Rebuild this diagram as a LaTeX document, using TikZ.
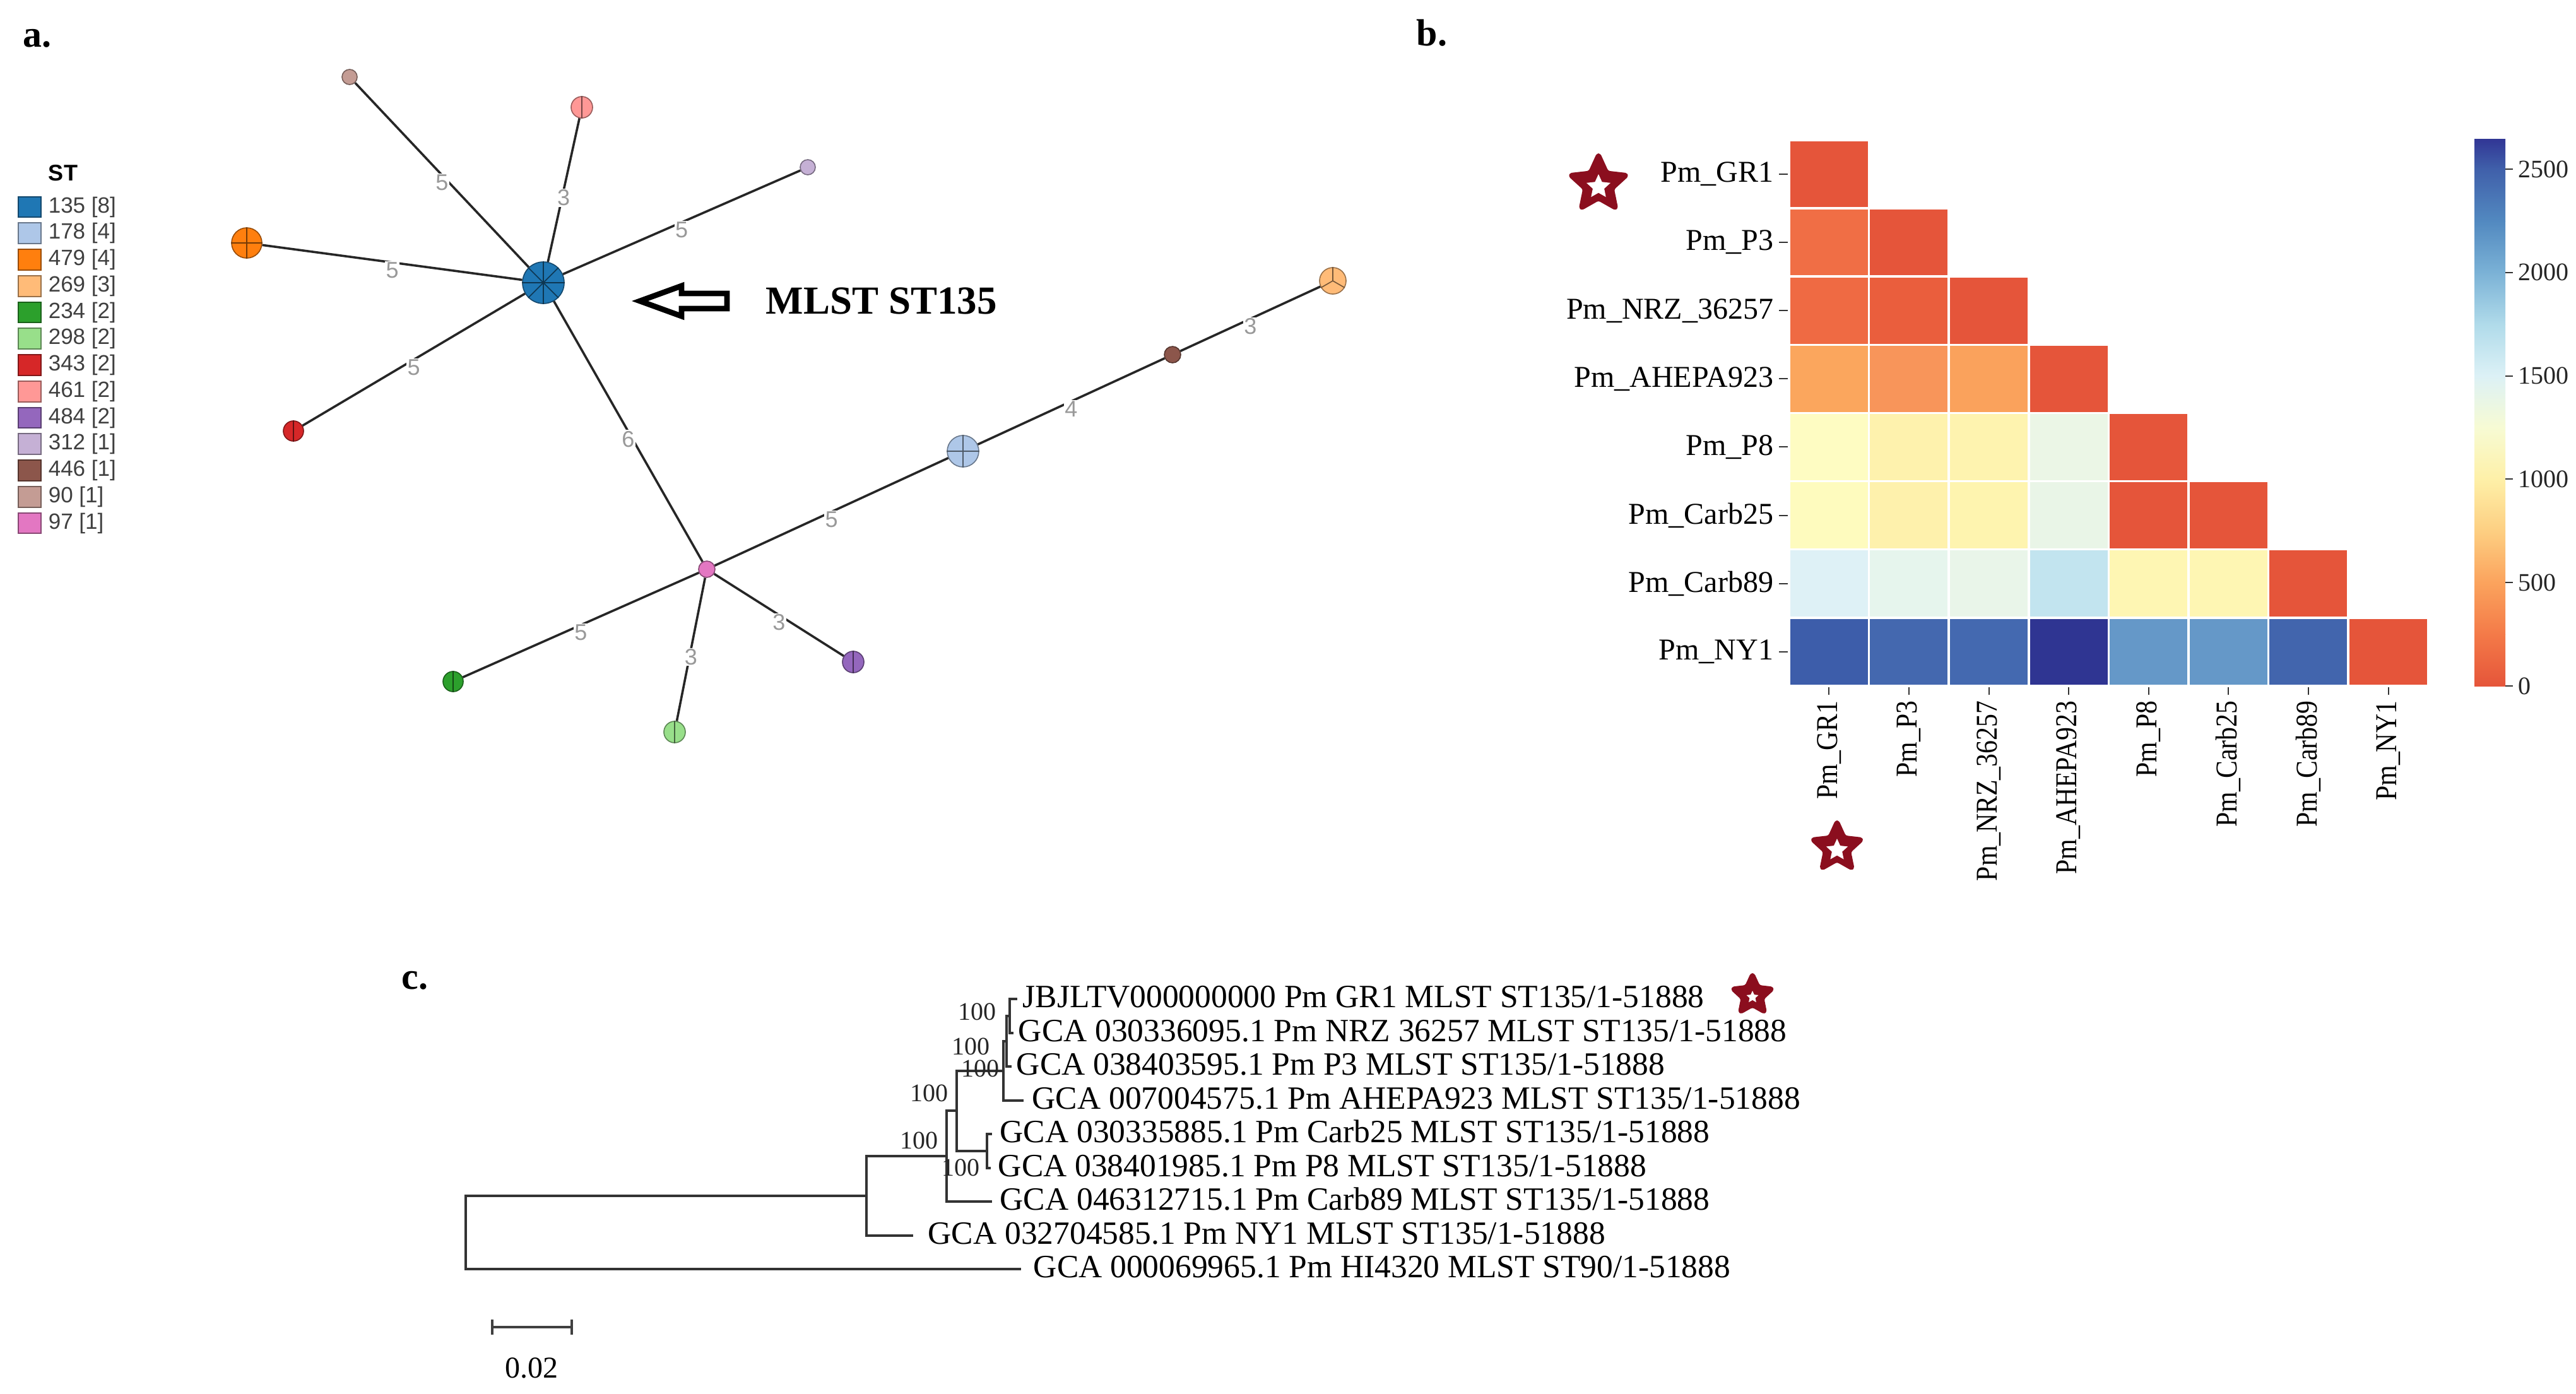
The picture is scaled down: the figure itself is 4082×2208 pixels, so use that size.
\documentclass[tikz,border=0pt]{standalone}
\usepackage{fontspec}
\usepackage{graphicx}
\setmainfont{Liberation Serif}
\setsansfont{Liberation Sans}
\usetikzlibrary{shapes.geometric}
\newcommand\myfs[1]{\fontsize{#1}{#1}\selectfont}
% ST colours
\definecolor{c135}{HTML}{1F77B4}
\definecolor{c178}{HTML}{AEC7E8}
\definecolor{c479}{HTML}{FF7F0E}
\definecolor{c269}{HTML}{FFBB78}
\definecolor{c234}{HTML}{2CA02C}
\definecolor{c298}{HTML}{98DF8A}
\definecolor{c343}{HTML}{D62728}
\definecolor{c461}{HTML}{FF9896}
\definecolor{c484}{HTML}{9467BD}
\definecolor{c312}{HTML}{C5B0D5}
\definecolor{c446}{HTML}{8C564B}
\definecolor{c90}{HTML}{C49C94}
\definecolor{c97}{HTML}{E377C2}
\definecolor{starred}{HTML}{8B0E1E}
% heatmap colours
\definecolor{hR}{HTML}{E5553A}
\definecolor{h10}{HTML}{F06E45}
\definecolor{h20}{HTML}{EF6A43}\definecolor{h21}{HTML}{EA5E3D}
\definecolor{h30}{HTML}{FBA65D}\definecolor{h31}{HTML}{F8955A}\definecolor{h32}{HTML}{FAA25C}
\definecolor{h40}{HTML}{FEFCC2}\definecolor{h41}{HTML}{FEF2AD}\definecolor{h42}{HTML}{FEF3AF}\definecolor{h43}{HTML}{EBF6E6}
\definecolor{h50}{HTML}{FEFBBE}\definecolor{h51}{HTML}{FEF1AC}\definecolor{h52}{HTML}{FEF4AF}\definecolor{h53}{HTML}{E9F5E7}
\definecolor{h60}{HTML}{DEF1F6}\definecolor{h61}{HTML}{E6F5ED}\definecolor{h62}{HTML}{E9F5E9}\definecolor{h63}{HTML}{C2E4EF}\definecolor{h64}{HTML}{FEF6B3}\definecolor{h65}{HTML}{FEF6B3}
\definecolor{h70}{HTML}{3D5DAA}\definecolor{h71}{HTML}{4468AF}\definecolor{h72}{HTML}{4469B0}\definecolor{h73}{HTML}{2F3592}\definecolor{h74}{HTML}{6598C8}\definecolor{h75}{HTML}{6598C8}\definecolor{h76}{HTML}{4265AD}
% colorbar stops
\definecolor{cb0}{HTML}{E5553A}
\definecolor{cb1}{HTML}{F47A48}
\definecolor{cb2}{HTML}{FBA35D}
\definecolor{cb3}{HTML}{FDCF82}
\definecolor{cb4}{HTML}{FEF0A8}
\definecolor{cb5}{HTML}{F7FBD4}
\definecolor{cb6}{HTML}{DCF1F6}
\definecolor{cb7}{HTML}{B0DBEA}
\definecolor{cb8}{HTML}{7BB2D6}
\definecolor{cb9}{HTML}{5289C0}
\definecolor{cb10}{HTML}{4060AA}
\definecolor{cb11}{HTML}{313695}
\begin{document}
\begin{tikzpicture}[x=0.25pt,y=-0.25pt,
  panel/.style={font=\bfseries\myfs{15pt}, inner sep=0pt, anchor=base west},
  legtxt/.style={font=\sffamily\myfs{8.75pt}, text=black!75, anchor=west, inner sep=0pt},
  swatch/.style={draw=#1!60!black, fill=#1, line width=0.5pt, minimum width=9pt, minimum height=8.2pt, inner sep=0pt},
  stn/.style={circle, draw=#1!60!black, fill=#1, line width=0.4pt, inner sep=0pt},
  pie/.style={draw=#1!45!black, line width=0.4pt},
  edge/.style={line width=0.9pt, black!85},
  elab/.style={font=\sffamily\myfs{9pt}, text=black!40, fill=white, inner sep=0.4pt, pos=0.5, yshift=-3pt},
  hlab/.style={font=\myfs{12pt}, inner sep=0pt},
  tick/.style={line width=0.5pt, black!80},
  cblab/.style={font=\myfs{10pt}, inner sep=0pt, anchor=west, text=black!85},
  treeline/.style={line width=0.8pt, black!80},
  leaf/.style={font=\myfs{12.875pt}, inner sep=0pt, anchor=west, text height=0.66em, text depth=0pt},
  boot/.style={font=\myfs{10pt}, inner sep=0pt, text=black!85},
  starout/.style={star, star points=5, star point ratio=2.1, fill=starred, draw=starred, line width=1.5pt, line join=round, rounded corners=1pt, inner sep=0pt, minimum size=#1},
  starin/.style={star, star points=5, star point ratio=2.1, fill=white, inner sep=0pt, minimum size=#1}
]
\fill[white] (0,0) rectangle (4082,2208);
\useasboundingbox (0,0) rectangle (4082,2208);

% ================= panel a =================
\node[panel] (la) at (36,74) {a.};
\node[font=\sffamily\bfseries\myfs{9pt}, inner sep=0pt] (legST) at (100,274) {ST};
\foreach \i/\c/\t in {0/c135/135 [8],1/c178/178 [4],2/c479/479 [4],3/c269/269 [3],4/c234/234 [2],5/c298/298 [2],6/c343/343 [2],7/c461/461 [2],8/c484/484 [2],9/c312/312 [1],10/c446/446 [1],11/c90/90 [1],12/c97/97 [1]}{
  \node[swatch=\c] (sw\i) at (47,{328+\i*41.75}) {};
  \node[legtxt] (lt\i) at (76,{328+\i*41.75}) {\t};
}

% nodes
\node[stn=c135, minimum size=16.5pt] (n135) at (861,448) {};
\node[stn=c90, minimum size=6pt] (n90) at (554,122) {};
\node[stn=c461, minimum size=8.5pt] (n461) at (922,170) {};
\node[stn=c312, minimum size=6pt] (n312) at (1280,265) {};
\node[stn=c479, minimum size=12pt] (n479) at (391,385) {};
\node[stn=c343, minimum size=8pt] (n343) at (465,683) {};
\node[stn=c97, minimum size=6.5pt] (n97) at (1120,902) {};
\node[stn=c178, minimum size=12.5pt] (n178) at (1526,715) {};
\node[stn=c446, minimum size=6.5pt] (n446) at (1858,562) {};
\node[stn=c269, minimum size=10.5pt] (n269) at (2112,445) {};
\node[stn=c234, minimum size=8pt] (n234) at (718,1080) {};
\node[stn=c298, minimum size=8.5pt] (n298) at (1069,1160) {};
\node[stn=c484, minimum size=8.5pt] (n484) at (1352,1049) {};

% edges
\draw[edge] (n135) -- (n90) node[elab] {5};
\draw[edge] (n135) -- (n461) node[elab] {3};
\draw[edge] (n135) -- (n312) node[elab] {5};
\draw[edge] (n135) -- (n479) node[elab] {5};
\draw[edge] (n135) -- (n343) node[elab] {5};
\draw[edge] (n135) -- (n97) node[elab] {6};
\draw[edge] (n97) -- (n178) node[elab] {5};
\draw[edge] (n178) -- (n446) node[elab] {4};
\draw[edge] (n446) -- (n269) node[elab] {3};
\draw[edge] (n97) -- (n234) node[elab] {5};
\draw[edge] (n97) -- (n298) node[elab] {3};
\draw[edge] (n97) -- (n484) node[elab] {3};

% pie divisions
\foreach \a in {0,45,...,315}{\draw[pie=c135] (n135.center) -- (n135.\a);}
\foreach \a in {0,90,180,270}{\draw[pie=c178] (n178.center) -- (n178.\a); \draw[pie=c479] (n479.center) -- (n479.\a);}
\foreach \a in {90,210,330}{\draw[pie=c269] (n269.center) -- (n269.\a);}
\foreach \n in {461,343,234,298,484}{\draw[pie=c\n] (n\n.90) -- (n\n.270);}

% arrow and label
\draw[line width=2.2pt, line join=miter, fill=white] (1014,477) -- (1080,453) -- (1080,465) -- (1152,465) -- (1152,489) -- (1080,489) -- (1080,501) -- cycle;
\node[font=\bfseries\myfs{15.75pt}, inner sep=0pt, anchor=west] (mlst) at (1213,477) {MLST ST135};

% ================= panel b =================
\node[panel] (lb) at (2244,72) {b.};
\foreach \r/\c/\col in {0/0/hR,1/0/h10,1/1/hR,2/0/h20,2/1/h21,2/2/hR,3/0/h30,3/1/h31,3/2/h32,3/3/hR,4/0/h40,4/1/h41,4/2/h42,4/3/h43,4/4/hR,5/0/h50,5/1/h51,5/2/h52,5/3/h53,5/4/hR,5/5/hR,6/0/h60,6/1/h61,6/2/h62,6/3/h63,6/4/h64,6/5/h65,6/6/hR,7/0/h70,7/1/h71,7/2/h72,7/3/h73,7/4/h74,7/5/h75,7/6/h76,7/7/hR}{
  \fill[\col, draw=white, line width=0.9pt] ({2835+\c*126.6},{222+\r*108.1}) rectangle ++(126.6,108.1);
}
\foreach \i/\t in {0/Pm\_GR1,1/Pm\_P3,2/Pm\_NRZ\_36257,3/Pm\_AHEPA923,4/Pm\_P8,5/Pm\_Carb25,6/Pm\_Carb89,7/Pm\_NY1}{
  \node[hlab, anchor=east] (rl\i) at (2811,{222+(\i+0.5)*108.1}) {\t};
  \draw[tick] (2819,{222+(\i+0.5)*108.1}) -- (2833,{222+(\i+0.5)*108.1});
  \node[hlab, anchor=east, rotate=90] (cl\i) at ({2835+(\i+0.5)*126.6},1110) {\scalebox{0.87}[1]{\t}};
  \draw[tick] ({2835+(\i+0.5)*126.6},1089) -- ({2835+(\i+0.5)*126.6},1101);
}
% colorbar
\foreach \ya/\yb/\ca/\cb in {1087/1005/cb0/cb1,1005/923/cb1/cb2,923/841/cb2/cb3,841/759/cb3/cb4,759/677/cb4/cb5,677/595/cb5/cb6,595/514/cb6/cb7,514/432/cb7/cb8,432/350/cb8/cb9,350/268/cb9/cb10,268/220/cb10/cb11}{
  \shade[top color=\cb, bottom color=\ca] (3921,\yb) rectangle (3970,\ya);
}
\foreach \v in {0,500,1000,1500,2000,2500}{
  \draw[tick] (3970,{1087-0.3276*\v}) -- (3982,{1087-0.3276*\v});
  \node[cblab] (cbl\v) at (3990,{1087-0.3276*\v}) {\v};
}
% stars
\node[starout=24pt] (star1) at (2533,292) {};
\node[starin=10pt] (star1i) at (2533,296) {};
\node[starout=21pt] (star2) at (2911,1343) {};
\node[starin=9pt] (star2i) at (2911,1347) {};

% ================= panel c =================
\node[panel] (lc) at (636,1567) {c.};
\coordinate (tA) at (738,1953);
\coordinate (tB) at (1373,1895);
\coordinate (tC) at (1500,1832);
\coordinate (tD) at (1516,1760);
\coordinate (tE) at (1590,1697);
\coordinate (tG) at (1595,1650);
\coordinate (tH) at (1600,1610);
\coordinate (tF) at (1564,1824);
\coordinate (lGR1) at (1612,1583);
\coordinate (lNRZ) at (1606,1637);
\coordinate (lP3) at (1603,1690);
\coordinate (lAH) at (1622,1744);
\coordinate (lC25) at (1572,1797);
\coordinate (lP8) at (1570,1851);
\coordinate (lC89) at (1572,1904);
\coordinate (lNY) at (1447,1958);
\coordinate (lHI) at (1618,2011);
\draw[treeline] (tA) |- (tB);
\draw[treeline] (tA) |- (lHI);
\draw[treeline] (tB) |- (tC);
\draw[treeline] (tB) |- (lNY);
\draw[treeline] (tC) |- (tD);
\draw[treeline] (tC) |- (lC89);
\draw[treeline] (tD) |- (tE);
\draw[treeline] (tD) |- (tF);
\draw[treeline] (tE) |- (tG);
\draw[treeline] (tE) |- (lAH);
\draw[treeline] (tG) |- (tH);
\draw[treeline] (tG) |- (lP3);
\draw[treeline] (tH) |- (lGR1);
\draw[treeline] (tH) |- (lNRZ);
\draw[treeline] (tF) |- (lC25);
\draw[treeline] (tF) |- (lP8);
\node[leaf] (tGR1) at (1620,1583) {JBJLTV000000000 Pm GR1 MLST ST135/1-51888};
\node[leaf] (tNRZ) at (1613,1637) {GCA 030336095.1 Pm NRZ 36257 MLST ST135/1-51888};
\node[leaf] (tP3) at (1610,1690) {GCA 038403595.1 Pm P3 MLST ST135/1-51888};
\node[leaf] (tAH) at (1635,1744) {GCA 007004575.1 Pm AHEPA923 MLST ST135/1-51888};
\node[leaf] (tC25) at (1584,1797) {GCA 030335885.1 Pm Carb25 MLST ST135/1-51888};
\node[leaf] (tP8) at (1581,1851) {GCA 038401985.1 Pm P8 MLST ST135/1-51888};
\node[leaf] (tC89) at (1584,1904) {GCA 046312715.1 Pm Carb89 MLST ST135/1-51888};
\node[leaf] (tNY) at (1470,1958) {GCA 032704585.1 Pm NY1 MLST ST135/1-51888};
\node[leaf] (tHI) at (1637,2011) {GCA 000069965.1 Pm HI4320 MLST ST90/1-51888};
% bootstrap values
\node[boot] (b1) at (1548,1603) {100};
\node[boot] (b2) at (1538,1658) {100};
\node[boot] (b3) at (1553,1693) {100};
\node[boot] (b4) at (1472,1732) {100};
\node[boot] (b5) at (1456,1807) {100};
\node[boot] (b6) at (1522,1850) {100};
% star
\node[starout=17pt] (star3) at (2777,1577) {};
\node[starin=5pt] (star3i) at (2777,1580) {};
% scale bar
\coordinate (sb1) at (780,2103);
\coordinate (sb2) at (906,2103);
\draw[line width=0.9pt, black!75] (sb1) -- (sb2);
\draw[line width=0.9pt, black!75] ([yshift=-3pt]sb1) -- ([yshift=3pt]sb1);
\draw[line width=0.9pt, black!75] ([yshift=-3pt]sb2) -- ([yshift=3pt]sb2);
\node[font=\myfs{12pt}, inner sep=0pt] (sbl) at (842,2168) {0.02};
\end{tikzpicture}
\end{document}
